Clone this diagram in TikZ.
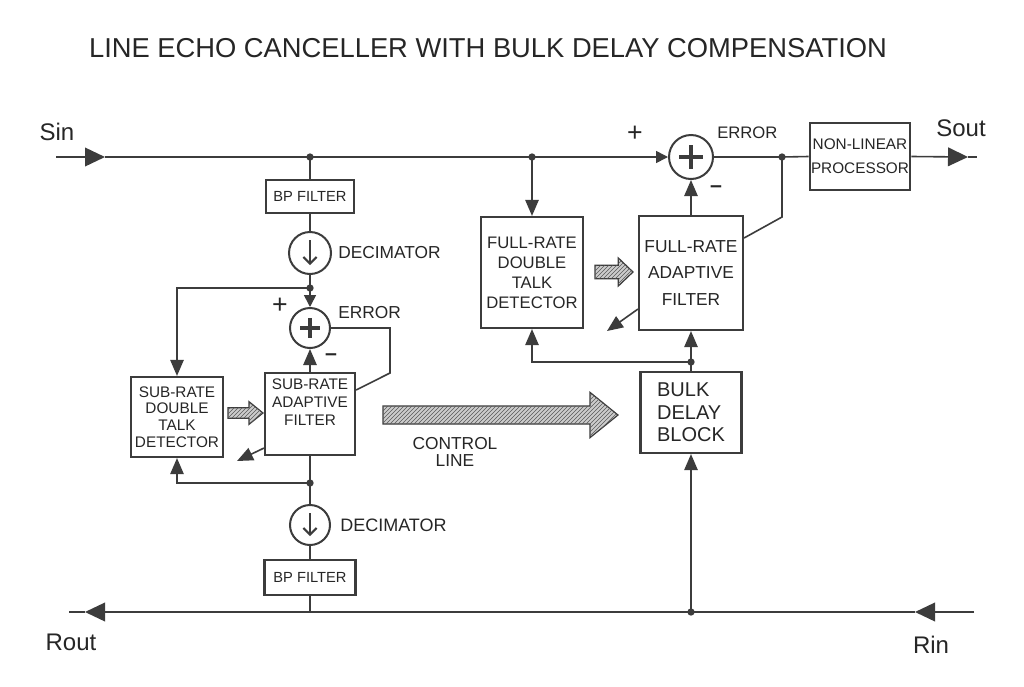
\documentclass[tikz,border=0pt]{standalone}
\usepackage{fontspec}
\setmainfont{Liberation Sans}
\usetikzlibrary{arrows.meta,patterns,calc}
\definecolor{pencil}{HTML}{3C3C3C}
\definecolor{lead}{HTML}{262626}
\newcommand\fatarrowdraw[5]{%
  \path[hatcharrow] let \p1=(#1), \p2=(#2) in
    (\x1,\y1+#3) -- (\x2-#5,\y1+#3) -- (\x2-#5,\y1+#4) -- (\x2,\y1)
    -- (\x2-#5,\y1-#4) -- (\x2-#5,\y1-#3) -- (\x1,\y1-#3) -- cycle;}
\begin{document}
\begin{tikzpicture}[x=0.75pt,y=-0.75pt,
  wire/.style={draw=pencil,line width=1.2pt},
  boxx/.style={draw=pencil,line width=1.6pt,fill=white,inner sep=1pt,align=center,text=lead},
  sumc/.style={circle,draw=pencil,line width=1.5pt,fill=white,inner sep=0pt},
  jdot/.style={circle,fill=pencil,inner sep=0pt,minimum size=5.5pt},
  bigtip/.style={wire,-{Triangle[length=15pt,width=14pt]}},
  midtip/.style={wire,-{Triangle[length=12pt,width=10pt]}},
  smalltip/.style={wire,-{Triangle[length=9pt,width=9pt]}},
  dectip/.style={draw=pencil,line width=1.5pt,-{Straight Barb[length=5pt,width=10pt]}},
  crossbar/.style={draw=pencil,line width=2.4pt},
  lbl/.style={text=lead,inner sep=0pt},
  hatcharrow/.style={draw=pencil,line width=0.9pt,fill=gray!40,postaction={pattern=north east lines,pattern color=gray!70!black}},
]
\fill[white] (0,0) rectangle (1024,686);
\useasboundingbox (0,0) rectangle (1024,686);

% ---------- title and port labels
\node[lbl,font=\fontsize{20.5}{24}\selectfont] (title) at (488,48) {LINE ECHO CANCELLER WITH BULK DELAY COMPENSATION};
\node[lbl,font=\fontsize{18}{20}\selectfont] (sinl) at (57,132) {Sin};
\node[lbl,font=\fontsize{18}{20}\selectfont] (soutl) at (961,128) {Sout};
\node[lbl,font=\fontsize{18}{20}\selectfont] (routl) at (71,642) {Rout};
\node[lbl,font=\fontsize{18}{20}\selectfont] (rinl) at (931,645) {Rin};

% ---------- coordinates
\coordinate (sinA) at (56,157);
\coordinate (sinT) at (105,157);
\coordinate (j1) at (310,157);
\coordinate (j2) at (532,157);
\coordinate (ej2) at (782,157);
\coordinate (soutT) at (968,157);
\coordinate (soutE) at (977,157);
\coordinate (j3) at (310,288);
\coordinate (j4) at (310,483);
\coordinate (jb) at (310,612);
\coordinate (rinE) at (974,612);
\coordinate (rinT) at (915,612);
\coordinate (j5) at (691,612);
\coordinate (routT) at (85,612);
\coordinate (routE) at (69,612);
\coordinate (j6) at (691,362);
\coordinate (e1a) at (390,328);
\coordinate (e1b) at (390,373);
\coordinate (e2a) at (782,217);
\coordinate (fb1) at (237,461);
\coordinate (fb2) at (607,331);
\coordinate (h1s) at (228,413);
\coordinate (h1e) at (263,413);
\coordinate (h2s) at (595,272);
\coordinate (h2e) at (633,272);
\coordinate (cs) at (383,415);
\coordinate (ce) at (618,415);

% ---------- blocks
\node[boxx,minimum width=66pt,minimum height=24.75pt,font=\fontsize{11}{12}\selectfont] (bp1) at (310,196.5) {BP FILTER};
\node[sumc,minimum size=31.5pt] (dec1) at (310,253) {};
\node[sumc,minimum size=30pt] (sum1) at (310,328) {};
\node[boxx,minimum width=69pt,minimum height=60pt,font=\fontsize{11.5}{12.5}\selectfont] (srdtd) at (177,417) {SUB-RATE\\DOUBLE\\TALK\\DETECTOR};
\node[boxx,minimum width=67.5pt,minimum height=61.5pt,font=\fontsize{11.5}{13.5}\selectfont] (sraf) at (310,414) {SUB-RATE\\ADAPTIVE\\FILTER\\[5pt]};
\node[sumc,minimum size=30pt] (dec2) at (310,525) {};
\node[boxx,minimum width=68.25pt,minimum height=26.25pt,font=\fontsize{11}{12}\selectfont] (bp2) at (310,577.5) {BP FILTER};
\node[boxx,minimum width=76.5pt,minimum height=83.25pt,font=\fontsize{12.5}{15}\selectfont] (frdtd) at (532,272.5) {FULL-RATE\\DOUBLE\\TALK\\DETECTOR};
\node[boxx,minimum width=78pt,minimum height=85.5pt,font=\fontsize{13}{20}\selectfont] (fraf) at (691,273) {FULL-RATE\\ADAPTIVE\\FILTER};
\node[sumc,minimum size=33pt] (sum2) at (691,157) {};
\node[boxx,minimum width=75pt,minimum height=50.25pt,font=\fontsize{11.5}{18}\selectfont] (nlp) at (860,156.5) {NON-LINEAR\\PROCESSOR};
\node[boxx,minimum width=75.75pt,minimum height=60.75pt,align=left,font=\fontsize{15}{17}\selectfont] (bulk) at (691,412.5) {BULK\\DELAY\\BLOCK};

% ---------- symbols inside circles
\draw[crossbar] ($(sum1)+(-10,0)$) -- ($(sum1)+(10,0)$);
\draw[crossbar] ($(sum1)+(0,-10)$) -- ($(sum1)+(0,10)$);
\draw[crossbar] ($(sum2)+(-12,0)$) -- ($(sum2)+(12,0)$);
\draw[crossbar] ($(sum2)+(0,-12)$) -- ($(sum2)+(0,12)$);
\draw[dectip] ($(dec1)+(0,-13)$) -- ($(dec1)+(0,12)$);
\draw[dectip] ($(dec2)+(0,-12)$) -- ($(dec2)+(0,11)$);

% ---------- Sin / Sout path
\draw[bigtip] (sinA) -- (sinT);
\draw[wire] (sinT) -- (j1) -- (j2);
\draw[smalltip] (j2) -- (sum2.west);
\draw[wire] (sum2.east) -- (ej2) -- (nlp.west);
\draw[bigtip] (nlp.east) -- (soutT);
\draw[wire] (soutT) -- (soutE);

% ---------- sub-rate section
\draw[wire] (j1) -- (bp1.north);
\draw[wire] (bp1.south) -- (dec1.north);
\draw[wire] (dec1.south) -- (j3);
\draw[smalltip] (j3) -- (sum1.north);
\draw[midtip] (j3) -- (j3 -| srdtd.north) -- (srdtd.north);
\draw[midtip] (sraf.north) -- (sum1.south);
\draw[wire] (sum1.east) -- (e1a) -- (e1b) -- ($(sraf.east)+(0,-24)$);
\fatarrowdraw{h1s}{h1e}{4pt}{8.5pt}{10.5pt}
\draw[midtip] ($(sraf.south west)+(0,-8)$) -- (fb1);
\draw[wire] (sraf.south) -- (j4) -- (dec2.north);
\draw[wire] (dec2.south) -- (bp2.north);
\draw[wire] (bp2.south) -- (jb);
\draw[midtip] (j4) -- (j4 -| srdtd.south) -- (srdtd.south);

% ---------- Rin / Rout path
\draw[bigtip] (rinE) -- (rinT);
\draw[wire] (rinT) -- (j5) -- (jb);
\draw[bigtip] (jb) -- (routT);
\draw[wire] (routT) -- (routE);

% ---------- full-rate section
\draw[midtip] (j5) -- (bulk.south);
\draw[wire] (bulk.north) -- (j6);
\draw[midtip] (j6) -- (fraf.south);
\draw[midtip] (j6) -- (j6 -| frdtd.south) -- (frdtd.south);
\draw[midtip] (j2) -- (frdtd.north);
\draw[midtip] (fraf.north) -- (sum2.south);
\draw[wire] (ej2) -- (e2a) -- ($(fraf.east)+(0,-35)$);
\fatarrowdraw{h2s}{h2e}{5pt}{10.5pt}{11pt}
\draw[midtip] ($(fraf.south west)+(0,-22)$) -- (fb2);

% ---------- control line
\fatarrowdraw{cs}{ce}{6.75pt}{17pt}{21pt}
\node[lbl,align=center,font=\fontsize{13}{13}\selectfont] (ctrl) at (455,452) {CONTROL\\LINE};

% ---------- labels
\node[lbl,anchor=west,font=\fontsize{13}{15}\selectfont] (decl1) at (338,253) {DECIMATOR};
\node[lbl,anchor=west,font=\fontsize{13.5}{15}\selectfont] (decl2) at (340,525) {DECIMATOR};
\node[lbl,anchor=west,font=\fontsize{13}{15}\selectfont] (errl1) at (338,313) {ERROR};
\node[lbl,anchor=west,font=\fontsize{12.5}{15}\selectfont] (errl2) at (717,133) {ERROR};
\node[lbl,font=\fontsize{20}{22}\selectfont] (plus1) at (280,306) {+};
\node[lbl,font=\fontsize{20}{22}\selectfont] (plus2) at (635,134) {+};
\node[lbl,font=\bfseries\fontsize{16}{18}\selectfont] (minus1) at (331,357) {–};
\node[lbl,font=\bfseries\fontsize{16}{18}\selectfont] (minus2) at (716,189) {–};

% ---------- junction dots
\foreach \j in {j1,j2,ej2,j3,j4,j5,j6}{\node[jdot] at (\j) {};}
\end{tikzpicture}
\end{document}
